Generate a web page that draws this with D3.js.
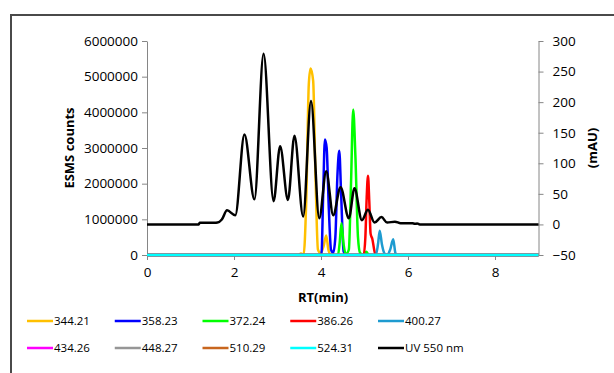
<!DOCTYPE html>
<html>
<head>
<meta charset="utf-8">
<script src="https://cdn.jsdelivr.net/npm/d3@7"></script>
<style>
  body { margin: 0; background: #fff; }
  svg text { font-family: "Open Sans", "Liberation Sans", sans-serif; fill: #000; }
</style>
</head>
<body>
<div id="chart"></div>
<script>
// series names and colours, legend order
const seriesNames = ["344.21", "358.23", "372.24", "386.26", "400.27", "434.26", "448.27", "510.29", "524.31", "UV 550 nm"];
const seriesColors = ["#FFC000", "#0000FF", "#00FF00", "#FF0000", "#1E9BD0", "#FF00FF", "#969696", "#C8661E", "#00FFFF", "#000000"];

// MS traces: [RT(min), counts]
const ms344 = [[0, 0], [3.48, 0], [3.54, 40000], [3.6, 0], [3.66, 1500000], [3.72, 4800000], [3.76, 5230000], [3.82, 4880000], [3.87, 2400000], [3.93, 150000], [3.99, 50000], [4.06, 250000], [4.12, 550000], [4.17, 150000], [4.23, 0], [9, 0]];
const ms358 = [[0, 0], [4.01, 0], [4.05, 1700000], [4.09, 3240000], [4.13, 3000000], [4.18, 1300000], [4.23, 150000], [4.28, 60000], [4.33, 500000], [4.38, 2300000], [4.42, 2920000], [4.46, 1800000], [4.52, 100000], [4.57, 0], [9, 0]];
const ms372 = [[0, 0], [4.39, 0], [4.43, 350000], [4.47, 890000], [4.52, 300000], [4.57, 20000], [4.64, 150000], [4.69, 2000000], [4.74, 4080000], [4.79, 2800000], [4.85, 500000], [4.9, 50000], [4.98, 0], [5.04, 90000], [5.1, 0], [9, 0]];
const ms386 = [[0, 0], [4.98, 0], [5.02, 500000], [5.05, 1600000], [5.08, 2220000], [5.11, 1500000], [5.14, 600000], [5.18, 450000], [5.24, 60000], [5.29, 0], [9, 0]];
const ms400 = [[0, 0], [5.26, 0], [5.31, 300000], [5.35, 680000], [5.4, 300000], [5.46, 40000], [5.52, 0], [5.59, 150000], [5.66, 440000], [5.71, 60000], [5.75, 0], [9, 0]];
const ms434 = [[0, 0], [9, 0]];
const ms448 = [[0, 0], [9, 0]];
const ms510 = [[0, 0], [9, 0]];
const ms524 = [[0, 0], [9, 0]];

// UV 550 nm trace (mAU, right axis)
const uvTime = [0, 0.5, 1.0, 1.15, 1.19, 1.21, 1.25, 1.4, 1.55, 1.62, 1.72, 1.84, 2.03, 2.24, 2.47, 2.68, 2.91, 3.06, 3.24, 3.39, 3.59, 3.77, 3.96, 4.12, 4.28, 4.45, 4.64, 4.77, 4.94, 5.08, 5.23, 5.39, 5.52, 5.7, 5.83, 6.1, 6.16, 6.21, 6.27, 6.5, 7.5, 8.5, 9];
const uvValue = [0, 0, 0, 0, 0, 2.7, 2.7, 2.7, 2.7, 3, 8, 23, 15, 147, 41, 279, 38, 128, 40, 145, 13, 202, 10, 87, 15, 61, 10, 59, 7, 24, 3, 12, 3, 4.5, 2, 2, 1, 1.5, 0, 0, 0, 0, 0];

// tick labels
const xTicks = [0, 2, 4, 6, 8];
const yLeftTicks = [0, 1000000, 2000000, 3000000, 4000000, 5000000, 6000000];
const yRightTicks = [-50, 0, 50, 100, 150, 200, 250, 300];

const width = 614, height = 373;
const margin = { top: 41, right: 76, bottom: 118, left: 147 };

const svg = d3.select("#chart").append("svg")
    .attr("width", width)
    .attr("height", height);

// outer chart frame (cut off at right and bottom)
svg.append("rect")
    .attr("x", 11).attr("y", 15)
    .attr("width", 700).attr("height", 500)
    .attr("fill", "none")
    .attr("stroke", "#4a4a4a")
    .attr("stroke-width", 2);

const x = d3.scaleLinear().domain([0, 9]).range([margin.left, width - margin.right + 0.5]);
const yL = d3.scaleLinear().domain([0, 6000000]).range([height - margin.bottom, margin.top]);
const yR = d3.scaleLinear().domain([-50, 300]).range([height - margin.bottom, margin.top]);

const axisColor = "#868686";
function styleAxis(g) {
    g.selectAll("path, line").attr("stroke", axisColor);
    g.selectAll("text").attr("font-size", "13.5px");
}

// left axis
svg.append("g")
    .attr("transform", `translate(${x(0)},0)`)
    .call(d3.axisLeft(yL).tickValues(yLeftTicks).tickFormat(d3.format("d")).tickSize(5).tickSizeOuter(0).tickPadding(4))
    .call(styleAxis);

// right axis
svg.append("g")
    .attr("transform", `translate(${x(9)},0)`)
    .call(d3.axisRight(yR).tickValues(yRightTicks).tickSize(5).tickSizeOuter(0).tickPadding(9))
    .call(styleAxis);

// bottom axis
svg.append("g")
    .attr("transform", `translate(0,${yL(0)})`)
    .call(d3.axisBottom(x).tickValues(xTicks).tickSize(5).tickSizeOuter(0).tickPadding(7))
    .call(styleAxis);

// axis titles
svg.append("text")
    .attr("transform", `translate(74,${(yL(0) + yL(6000000)) / 2}) rotate(-90)`)
    .attr("text-anchor", "middle")
    .attr("font-size", "13px")
    .attr("font-weight", "bold")
    .text("ESMS counts");

svg.append("text")
    .attr("transform", `translate(597,${(yL(0) + yL(6000000)) / 2}) rotate(-90)`)
    .attr("text-anchor", "middle")
    .attr("font-size", "13px")
    .attr("font-weight", "bold")
    .text("(mAU)");

svg.append("text")
    .attr("x", 323)
    .attr("y", 302)
    .attr("text-anchor", "middle")
    .attr("font-size", "13px")
    .attr("font-weight", "bold")
    .text("RT(min)");

// MS lines
const msLine = d3.line()
    .x(d => x(d[0]))
    .y(d => yL(d[1]))
    .curve(d3.curveMonotoneX);

const msSeries = [ms344, ms358, ms372, ms386, ms400, ms434, ms448, ms510, ms524];
msSeries.forEach((s, i) => {
    svg.append("path")
        .datum(s)
        .attr("d", msLine)
        .attr("fill", "none")
        .attr("stroke", seriesColors[i])
        .attr("stroke-width", 2.5)
        .attr("stroke-linejoin", "round");
});

// UV line
const uvData = uvTime.map((t, i) => [t, uvValue[i]]);
const uvLine = d3.line()
    .x(d => x(d[0]))
    .y(d => yR(d[1]))
    .curve(d3.curveMonotoneX);

svg.append("path")
    .datum(uvData)
    .attr("d", uvLine)
    .attr("fill", "none")
    .attr("stroke", seriesColors[9])
    .attr("stroke-width", 2.5)
    .attr("stroke-linejoin", "round");

// legend, 2 rows of 5
const legend = svg.append("g");
seriesNames.forEach((name, i) => {
    const col = i % 5, row = Math.floor(i / 5);
    const lx = 27 + col * 87.75, ly = 321 + row * 27;
    legend.append("line")
        .attr("x1", lx).attr("x2", lx + 26)
        .attr("y1", ly).attr("y2", ly)
        .attr("stroke", seriesColors[i])
        .attr("stroke-width", 2.5);
    legend.append("text")
        .attr("x", lx + 27)
        .attr("y", ly)
        .attr("dy", "0.35em")
        .attr("font-size", "11.5px")
        .text(name);
});
</script>
</body>
</html>
